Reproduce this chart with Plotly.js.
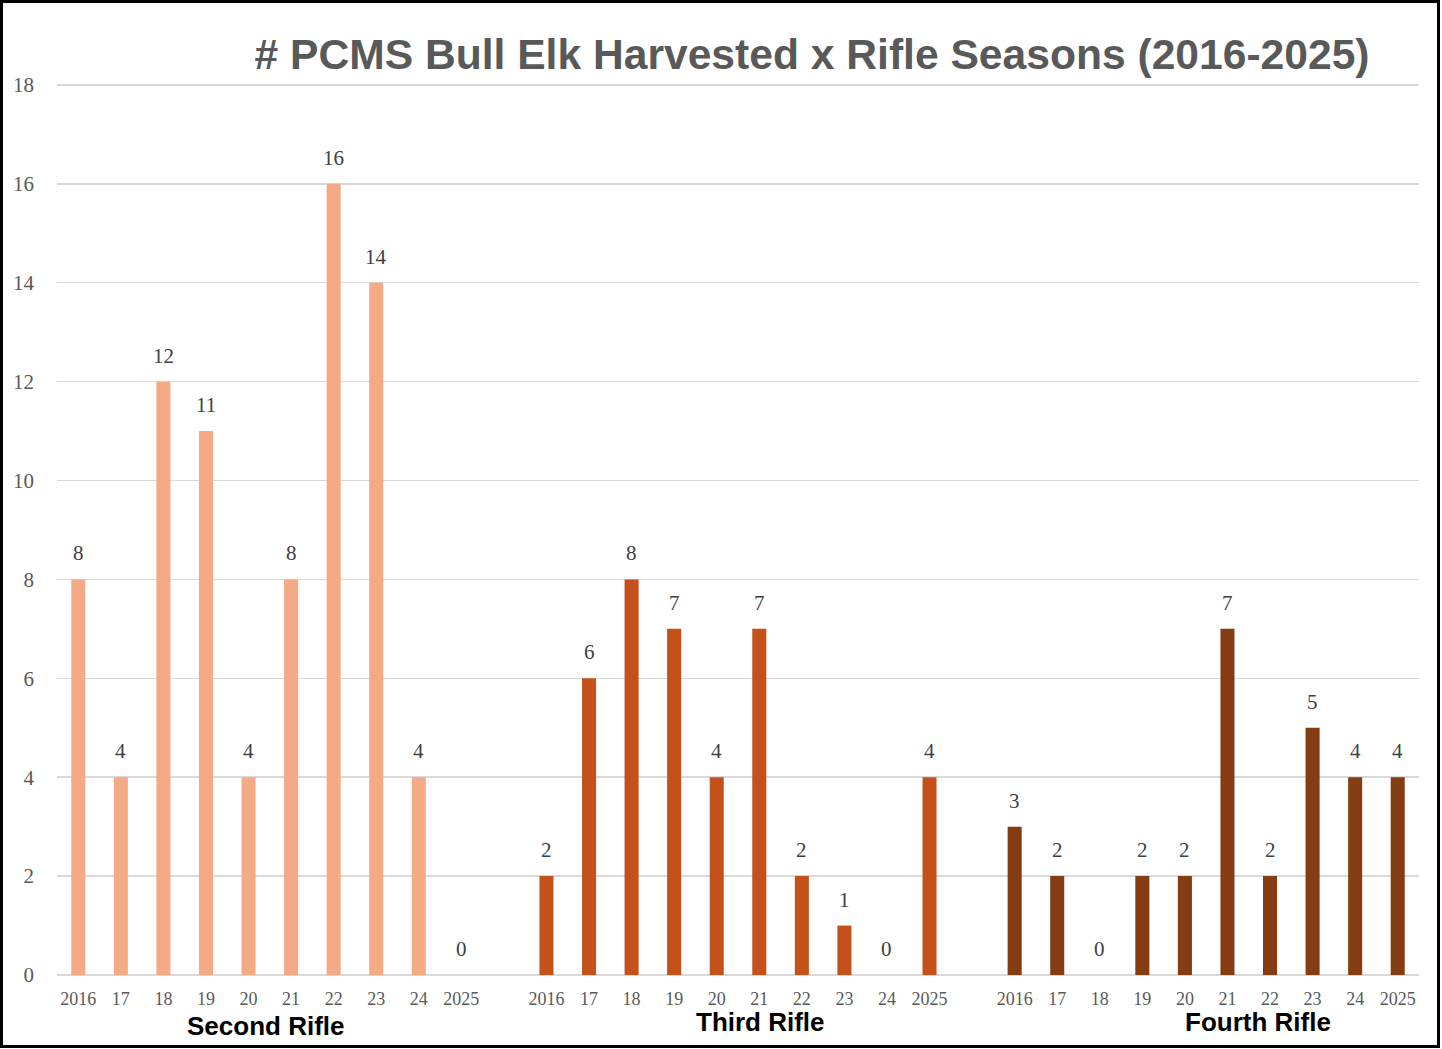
<!DOCTYPE html>
<html>
<head>
<meta charset="utf-8">
<script src="https://cdn.plot.ly/plotly-3.0.1.min.js"></script>
<style>
  html, body { margin: 0; padding: 0; background: #fff; }
  #wrap { position: relative; width: 1442px; height: 1049px; overflow: hidden; }
  #chart { position: absolute; left: 0; top: 0; width: 1442px; height: 1049px; }
  #frame { position: absolute; left: 0; top: 0; width: 1440px; height: 1048px; border: 3px solid #000; box-sizing: border-box; pointer-events: none; }
</style>
</head>
<body>
<div id="wrap">
  <div id="chart"></div>
  <div id="frame"></div>
</div>
<script>
// ---- data ----
const yearLabels = ['2016', '17', '18', '19', '20', '21', '22', '23', '24', '2025'];
const seasonNames = ['Second Rifle', 'Third Rifle', 'Fourth Rifle'];
const secondRifle = [8, 4, 12, 11, 4, 8, 16, 14, 4, 0];
const thirdRifle  = [2, 6, 8, 7, 4, 7, 2, 1, 0, 4];
const fourthRifle = [3, 2, 0, 2, 2, 7, 2, 5, 4, 4];
const titleText = '# PCMS Bull Elk Harvested x Rifle Seasons (2016-2025)';

// ---- styling ----
const colors = ['#F4AB85', '#C4511A', '#843C12'];
const series = [secondRifle, thirdRifle, fourthRifle];
const groupStride = yearLabels.length + 1; // one empty slot between seasons

const traces = [];
const annotations = [];
const tickvals = [];
const ticktext = [];

series.forEach((vals, g) => {
  const xs = vals.map((_, i) => g * groupStride + i);
  xs.forEach((x, i) => { tickvals.push(x); ticktext.push(yearLabels[i]); });
  traces.push({
    type: 'bar',
    x: xs,
    y: vals,
    name: seasonNames[g],
    width: 0.33,
    marker: { color: colors[g] },
    hoverinfo: 'x+y'
  });
  vals.forEach((v, i) => {
    annotations.push({
      x: xs[i], y: v, xref: 'x', yref: 'y',
      text: String(v), showarrow: false,
      yanchor: 'bottom', yshift: 12,
      font: { family: 'Liberation Serif, Times New Roman, serif', size: 21, color: '#404040' }
    });
  });
});

// season labels under the axis
const seasonLabelX = [4.39, 16.04, 27.72];
const seasonLabelShift = [-51, -47, -47];
seasonNames.forEach((s, g) => {
  annotations.push({
    x: seasonLabelX[g], y: 0, xref: 'x', yref: 'paper',
    text: '<b>' + s + '</b>', showarrow: false,
    yanchor: 'middle', xanchor: 'center', yshift: seasonLabelShift[g],
    font: { family: 'Liberation Sans, Arial, sans-serif', size: 26, color: '#000' }
  });
});

const totalSlots = groupStride * series.length - 1;

const layout = {
  width: 1442, height: 1049,
  paper_bgcolor: '#fff', plot_bgcolor: '#fff',
  margin: { l: 57, r: 23, t: 80, b: 74 },
  showlegend: false,
  barmode: 'overlay',
  title: {
    text: '<b>' + titleText + '</b>',
    x: 812 / 1442, xref: 'container', xanchor: 'center',
    y: 1 - 54 / 1049, yref: 'container', yanchor: 'middle',
    font: { family: 'Liberation Sans, Arial, sans-serif', size: 42.6, color: '#595959' }
  },
  xaxis: {
    range: [-0.5, totalSlots - 0.5],
    tickmode: 'array', tickvals: tickvals, ticktext: ticktext,
    showgrid: false, zeroline: false, showline: false,
    ticks: '', ticklabelstandoff: 11,
    tickfont: { family: 'Liberation Serif, Times New Roman, serif', size: 18, color: '#595959' },
    fixedrange: true
  },
  yaxis: {
    range: [0, 18.1], tickmode: 'array', tickvals: [0, 2, 4, 6, 8, 10, 12, 14, 16, 18],
    showgrid: true, gridcolor: '#D9D9D9', gridwidth: 1.5,
    zeroline: true, zerolinecolor: '#D9D9D9', zerolinewidth: 2,
    showline: false, ticks: '', ticklabelstandoff: 22,
    tickfont: { family: 'Liberation Serif, Times New Roman, serif', size: 21, color: '#595959' },
    fixedrange: true
  },
  annotations: annotations
};

Plotly.newPlot('chart', traces, layout, { displayModeBar: false, staticPlot: true });
</script>
</body>
</html>
